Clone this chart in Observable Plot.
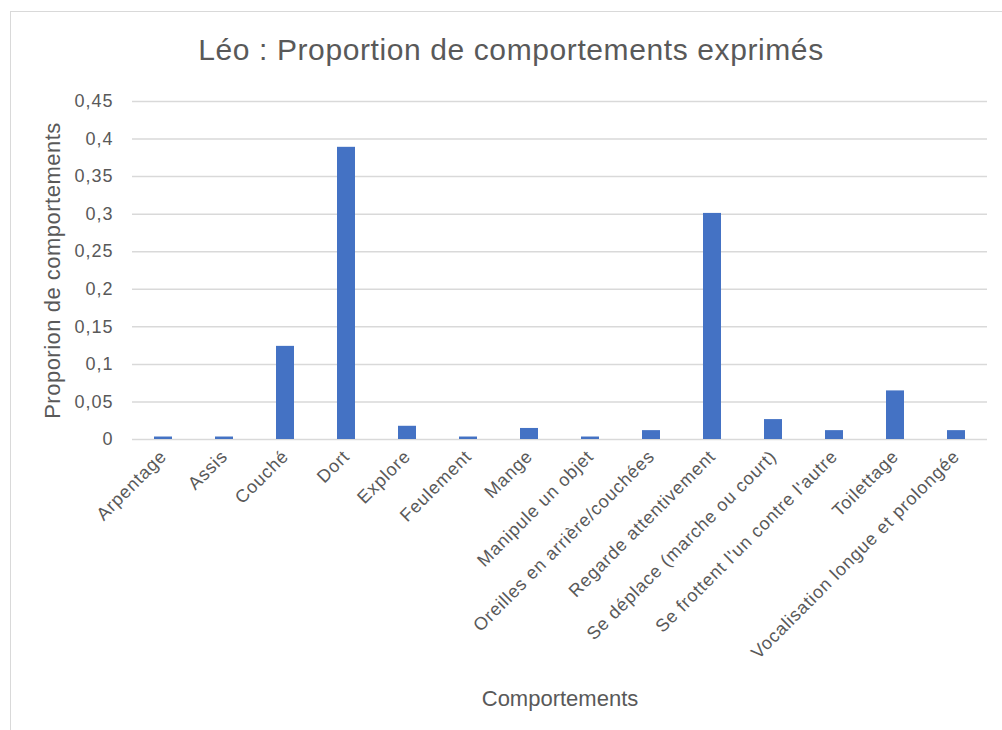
<!DOCTYPE html>
<html><head><meta charset="utf-8">
<script src="https://cdn.jsdelivr.net/npm/d3@7"></script>
<script src="https://cdn.jsdelivr.net/npm/@observablehq/plot@0.6"></script>
<style>
body{margin:0;background:#fff;font-family:"Liberation Sans",Arial,sans-serif;}
#wrap{position:relative;width:1002px;height:730px;overflow:hidden;}
#frame{position:absolute;left:10px;top:11px;width:1100px;height:800px;border:1.5px solid #d9d9d9;box-sizing:border-box;}
#title{position:absolute;left:10px;width:1002px;top:32px;text-align:center;font-size:30px;letter-spacing:0.6px;color:#595959;line-height:36px;}
#chart{position:absolute;left:0;top:0;}
g[aria-label="x-axis tick label"] text{letter-spacing:0.8px;}
g[aria-label="y-axis tick label"] text{letter-spacing:1px;}
g[aria-label="y-axis label"] text{letter-spacing:0.5px;}
</style></head><body><div id="wrap"><div id="frame"></div><div id="title">Léo : Proportion de comportements exprimés</div><div id="chart"></div></div>
<script>
const categories = ["Arpentage","Assis","Couché","Dort","Explore","Feulement","Mange","Manipule un objet","Oreilles en arrière/couchées","Regarde attentivement","Se déplace (marche ou court)","Se frottent l'un contre l'autre","Toilettage","Vocalisation longue et prolongée"];
const values = [0.0033,0.0033,0.124,0.389,0.0176,0.0033,0.0147,0.0033,0.0118,0.301,0.0265,0.0118,0.0647,0.0118];
const yTicks = [0,0.05,0.1,0.15,0.2,0.25,0.3,0.35,0.4,0.45];
const data = categories.map((c,i)=>({c, v: values[i]}));
const fmt = d => String(d).replace(".", ",");
const chart = Plot.plot({
  width:1002, height:730,
  marginLeft:132, marginRight:15, marginTop:101, marginBottom:291,
  style:{fontFamily:'"Liberation Sans",Arial,sans-serif', fontSize:"16px", color:"#595959", background:"transparent", overflow:"visible"},
  x:{domain:categories, paddingInner:0.7, paddingOuter:0.35},
  y:{domain:[0,0.45]},
  marks:[
    Plot.gridY(yTicks,{stroke:"#d9d9d9", strokeOpacity:1, strokeWidth:1.5}),
    Plot.axisY({ticks:yTicks, tickSize:0, tickPadding:19, tickFormat:fmt, fontSize:18, label:null}),
    Plot.axisY({ticks:[], tickSize:0, label:"Proporion de comportements", labelArrow:"none", labelAnchor:"center", labelOffset:88, fontSize:22}),
    Plot.axisX({tickSize:0, tickRotate:-45, tickPadding:14, fontSize:18, label:null}),
    Plot.axisX({ticks:[], tickSize:0, label:"Comportements", labelAnchor:"center", labelOffset:266, fontSize:22}),
    Plot.barY(data,{x:"c", y:"v", fill:"#4472c4"})
  ]
});
document.getElementById("chart").appendChild(chart);
</script></body></html>
